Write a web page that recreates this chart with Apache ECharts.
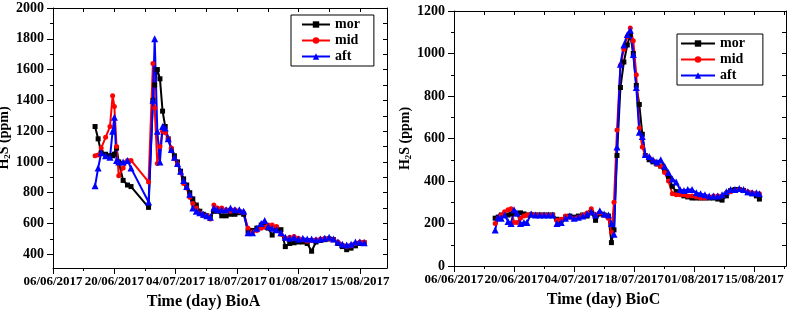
<!DOCTYPE html>
<html>
<head>
<meta charset="utf-8">
<script src="https://cdn.jsdelivr.net/npm/echarts@6/dist/echarts.min.js"></script>
<style>
  html, body { margin: 0; padding: 0; background: #fff; }
  #chart { width: 789px; height: 311px; }
</style>
</head>
<body>
<div id="chart"></div>
<script>
// days are counted from 06/06/2017
const bioADays = [9.6, 10.3, 11, 12, 13, 13.6, 14, 14.5, 15, 16, 17, 17.8, 21.8, 22.8, 23.2, 23.8, 24.4, 25, 25.6,
  26.3, 27, 27.7, 28.4, 29.1, 29.8, 30.5, 31.2, 31.9, 32.7, 33.5, 34.3, 35.1, 35.9, 36.7, 37.5, 38.5, 39.5, 40.5,
  41.5, 42.5, 43.5, 44.5, 45.5, 46.5, 47.5, 48.3, 49.1, 50, 51, 52, 53, 54, 55, 56, 57, 58, 59, 60, 61, 62, 63,
  64, 65, 66, 67, 68, 69, 70, 71];
const bioAMor = [1230, 1150, 1060, 1050, 1040, 1040, 1050, 1090, 1000, 880, 850, 840, 705, 1400, 1500, 1600, 1540,
  1330, 1230, 1150, 1080, 1040, 1000, 940, 890, 850, 800, 760, 720, 680, 660, 650, 640, 680, 680, 650, 650, 660,
  660, 670, 660, 550, 555, 570, 590, 590, 570, 525, 570, 560, 450, 470, 475, 480, 480, 470, 420, 480, 490, 495,
  500, 495, 470, 450, 430, 440, 455, 470, 475];
const bioAMid = [1040, 1045, 1090, 1160, 1230, 1430, 1360, 1100, 910, 960, 1010, 1010, 870, 1640, 1350, 990, 1100,
  1200, 1190, 1150, 1090, 1020, 990, 930, 860, 830, 770, 730, 700, 670, 650, 650, 630, 720, 700, 700, 690, 680,
  690, 680, 670, 570, 545, 555, 570, 575, 590, 590, 580, 530, 505, 510, 515, 505, 495, 485, 490, 495, 500, 505,
  500, 495, 480, 460, 450, 455, 470, 480, 480];
const bioAAft = [845, 960, 1060, 1040, 1030, 1200, 1290, 1010, 1000, 1000, 1010, 960, 740, 1400, 1800, 1200, 1000,
  1230, 1220, 1150, 1080, 1030, 990, 940, 880, 840, 790, 700, 680, 670, 660, 650, 640, 700, 690, 690, 690, 700,
  690, 690, 680, 540, 540, 570, 600, 620, 580, 570, 560, 540, 510, 505, 510, 500, 505, 500, 500, 495, 500, 505,
  510, 500, 480, 465, 460, 465, 480, 480, 475];

const bioCDays = [9.6, 10.3, 11, 11.8, 12.6, 13.3, 14, 14.7, 15.5, 16.3, 17, 18, 19, 20, 21, 22, 23, 24, 25, 26,
  27, 28, 29, 30, 31, 32, 33, 34, 35, 36, 36.7, 37.3, 38, 38.8, 39.6, 40.4, 41.1, 41.8, 42.5, 43.2, 43.9, 44.6,
  45.5, 46.4, 47.3, 48.2, 49.1, 50, 50.9, 51.8, 52.7, 53.6, 54.5, 55.5, 56.5, 57.5, 58.5, 59.5, 60.5, 61.5, 62.5,
  63.5, 64.5, 65.5, 66.5, 67.5, 68.5, 69.5, 70.5, 71.2];
const bioCMor = [225, 230, 240, 240, 240, 245, 250, 245, 250, 245, 240, 240, 240, 240, 240, 240, 240, 220, 215, 230,
  235, 230, 235, 240, 235, 250, 215, 245, 240, 235, 110, 170, 520, 840, 960, 1040, 1090, 1000, 850, 760, 620, 520,
  500, 490, 480, 470, 450, 420, 375, 350, 340, 330, 325, 320, 320, 320, 320, 320, 320, 315, 310, 330, 355, 360,
  360, 355, 345, 340, 330, 315];
const bioCMid = [200, 225, 240, 255, 265, 270, 205, 205, 225, 235, 240, 245, 240, 240, 240, 240, 240, 215, 220, 235,
  230, 225, 230, 240, 250, 270, 240, 250, 240, 225, 160, 300, 640, 945, 1020, 1080, 1120, 1060, 900, 650, 560, 520,
  510, 495, 480, 470, 440, 400, 340, 335, 335, 335, 330, 330, 325, 320, 320, 325, 330, 330, 330, 345, 350, 355,
  360, 355, 350, 345, 340, 340];
const bioCAft = [170, 230, 225, 240, 210, 200, 265, 250, 200, 205, 205, 245, 240, 240, 240, 240, 240, 200, 205, 225,
  235, 225, 230, 235, 245, 255, 240, 260, 245, 240, 200, 150, 560, 950, 1040, 1090, 1110, 995, 840, 630, 610, 525,
  515, 500, 490, 500, 470, 440, 410, 395, 360, 355, 360, 360, 345, 340, 335, 330, 330, 330, 335, 350, 360, 360,
  365, 360, 350, 345, 345, 340];

const seriesNames = ['mor', 'mid', 'aft'];
const xTickDays = [0, 14, 28, 42, 56, 70];
const xTickLabels = ['06/06/2017', '20/06/2017', '04/07/2017', '18/07/2017', '01/08/2017', '15/08/2017'];
const xMinorDays = [7, 21, 35, 49, 63, 77];
const bioAYTicks = [400, 600, 800, 1000, 1200, 1400, 1600, 1800, 2000];
const bioAYMinor = [500, 700, 900, 1100, 1300, 1500, 1700, 1900];
const bioCYTicks = [0, 200, 400, 600, 800, 1000, 1200];
const bioCYMinor = [100, 300, 500, 700, 900, 1100];

const FONT = '"Liberation Serif", "Times New Roman", serif';
const axisLine = { show: true, onZero: false, lineStyle: { color: '#000', width: 1 } };

function pairs(days, vals) {
  return days.map((d, i) => [d, vals[i]]);
}

function panelAxes(grid, xMax, yMin, yMax, yMajor, yMinor, title) {
  const xMajor = xTickDays.filter(d => d <= xMax);
  const xMin = xMinorDays.filter(d => d <= xMax);
  const xBase = { type: 'value', gridIndex: grid, min: 0, max: xMax, splitLine: { show: false } };
  const yBase = { type: 'value', gridIndex: grid, min: yMin, max: yMax, splitLine: { show: false } };
  const x = [
    Object.assign({}, xBase, {
      position: 'bottom',
      axisLine: axisLine,
      axisTick: { customValues: xMajor, length: 6, lineStyle: { color: '#000' } },
      axisLabel: {
        customValues: xMajor,
        formatter: v => xTickLabels[xTickDays.indexOf(v)],
        color: '#000', fontFamily: FONT, fontWeight: 'bold', fontSize: 13, margin: 7
      },
      name: title,
      nameLocation: 'middle',
      nameGap: 26,
      nameTextStyle: { color: '#000', fontFamily: FONT, fontWeight: 'bold', fontSize: 16, padding: [0, 33, 0, 0] }
    }),
    Object.assign({}, xBase, {
      position: 'bottom',
      axisLine: { show: false },
      axisTick: { customValues: xMin, length: 3, lineStyle: { color: '#000' } },
      axisLabel: { show: false }
    }),
    Object.assign({}, xBase, {
      position: 'top',
      axisLine: axisLine,
      axisTick: { customValues: xMajor.concat(xMin), inside: true, length: 4, lineStyle: { color: '#000' } },
      axisLabel: { show: false }
    })
  ];
  const y = [
    Object.assign({}, yBase, {
      position: 'left',
      axisLine: axisLine,
      axisTick: { customValues: yMajor, length: 6, lineStyle: { color: '#000' } },
      axisLabel: {
        customValues: yMajor,
        formatter: v => String(v),
        color: '#000', fontFamily: FONT, fontWeight: 'bold', fontSize: 14, margin: 9
      },
      name: 'H{s|2}S (ppm)',
      nameLocation: 'middle',
      nameRotate: 90,
      nameGap: 38,
      nameTextStyle: {
        color: '#000', fontFamily: FONT, fontWeight: 'bold', fontSize: 14,
        rich: { s: { fontFamily: FONT, fontWeight: 'bold', fontSize: 9, color: '#000', padding: [6, 0, 0, 0] } }
      }
    }),
    Object.assign({}, yBase, {
      position: 'left',
      axisLine: { show: false },
      axisTick: { customValues: yMinor, length: 3, lineStyle: { color: '#000' } },
      axisLabel: { show: false }
    }),
    Object.assign({}, yBase, {
      position: 'right',
      axisLine: axisLine,
      axisTick: { customValues: yMajor.concat(yMinor), inside: true, length: 4, lineStyle: { color: '#000' } },
      axisLabel: { show: false }
    })
  ];
  return { x, y };
}

const left = panelAxes(0, 76.2, 311, 2000, bioAYTicks, bioAYMinor, 'Time (day) BioA');
const right = panelAxes(1, 77.4, 0, 1200, bioCYTicks, bioCYMinor, 'Time (day) BioC');

const styles = {
  mor: { color: '#000000', symbol: 'rect', symbolSize: 5 },
  mid: { color: '#ff0000', symbol: 'circle', symbolSize: 5 },
  aft: { color: '#0000ff', symbol: 'triangle', symbolSize: 7 }
};

function makeSeries(name, days, vals, axisIndex) {
  const st = styles[name];
  return {
    name: name,
    type: 'line',
    xAxisIndex: axisIndex,
    yAxisIndex: axisIndex,
    data: pairs(days, vals),
    symbol: st.symbol,
    symbolSize: st.symbolSize,
    showSymbol: true,
    color: st.color,
    lineStyle: { color: st.color, width: 2 },
    itemStyle: { color: st.color },
    emphasis: { disabled: true }
  };
}

const legendBase = {
  orient: 'vertical',
  data: seriesNames,
  borderColor: '#000',
  borderWidth: 1,
  borderRadius: 0,
  itemGap: 1,
  itemHeight: 8,
  textStyle: { color: '#000', fontFamily: FONT, fontWeight: 'bold', fontSize: 14, lineHeight: 15 }
};

const chart = echarts.init(document.getElementById('chart'));
chart.setOption({
  animation: false,
  backgroundColor: '#fff',
  grid: [
    { left: 53, top: 8, width: 334, height: 260, outerBoundsMode: 'none' },
    { left: 454, top: 11, width: 332, height: 255, outerBoundsMode: 'none' }
  ],
  legend: [
    Object.assign({}, legendBase, { left: 291, top: 15, itemWidth: 28, padding: [2, 14, 2, 10] }),
    Object.assign({}, legendBase, { left: 677, top: 34, itemWidth: 34, padding: [2, 18, 2, 3] })
  ],
  xAxis: left.x.concat(right.x),
  yAxis: left.y.concat(right.y),
  series: [
    makeSeries('mor', bioADays, bioAMor, 0),
    makeSeries('mid', bioADays, bioAMid, 0),
    makeSeries('aft', bioADays, bioAAft, 0),
    makeSeries('mor', bioCDays, bioCMor, 3),
    makeSeries('mid', bioCDays, bioCMid, 3),
    makeSeries('aft', bioCDays, bioCAft, 3)
  ]
});
</script>
</body>
</html>
